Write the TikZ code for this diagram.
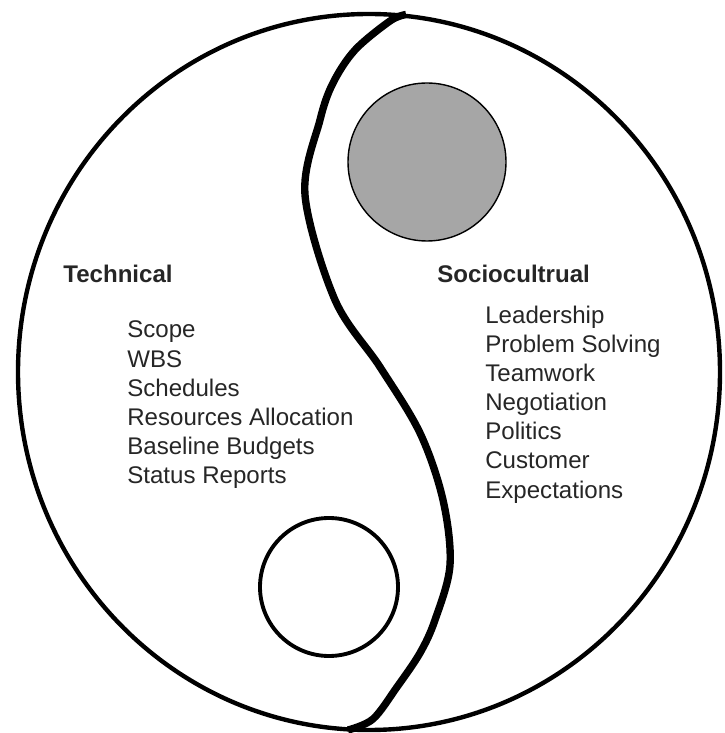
\documentclass[tikz,border=0pt]{standalone}
\usepackage{fontspec}
\setmainfont{Liberation Sans}

\tikzset{
  heading/.style={anchor=base west, font=\fontsize{13.7}{16.6}\selectfont\bfseries, text=black!85, inner sep=0pt},
  item/.style={anchor=base west, font=\fontsize{13.7}{16.6}\selectfont, text=black!85, inner sep=0pt},
  rim/.style={line width=2.5pt},
  divide/.style={line width=4.2pt, line join=round},
}

\begin{document}
\begin{tikzpicture}
    \useasboundingbox (0,0) rectangle (14.5,14.66);
    %% Draw the outer disc and the two eyes
    \draw[rim] (7.38,7.22) ellipse [x radius=7.02, y radius=7.16];
    \draw[line width=0.8pt, fill=black!35] (8.54,11.42) circle (1.58);
    \draw[line width=2.2pt] (6.58,2.92) circle (1.38);
    %% Draw the dividing curve
    \coordinate (top) at (8.12,14.37);
    \coordinate (bottom) at (6.96,0.06);
    \draw[divide] plot[smooth, tension=0.55] coordinates {
      (top) (7.80,14.24) (7.10,13.66) (6.66,13.00) (6.40,12.26)
      (6.10,10.76) (6.70,8.66) (7.60,7.32) (8.40,6.00) (8.86,4.66)
      (9.00,3.36) (8.70,2.26) (8.40,1.60) (7.94,0.92) (7.46,0.28) (bottom)};
    %% Draw the two halves
    \node[heading] (tech) at (1.26,9.00) {Technical};
    \foreach \t [count=\i from 0] in {Scope,WBS,Schedules,Resources Allocation,Baseline Budgets,Status Reports}
      \node[item] (tech-\i) at (2.54,7.90-0.582*\i) {\t};
    \node[heading] (socio) at (8.74,9.00) {Sociocultrual};
    \foreach \t [count=\i from 0] in {Leadership,Problem Solving,Teamwork,Negotiation,Politics,Customer,Expectations}
      \node[item] (socio-\i) at (9.70,8.19-0.582*\i) {\t};
\end{tikzpicture}
\end{document}
